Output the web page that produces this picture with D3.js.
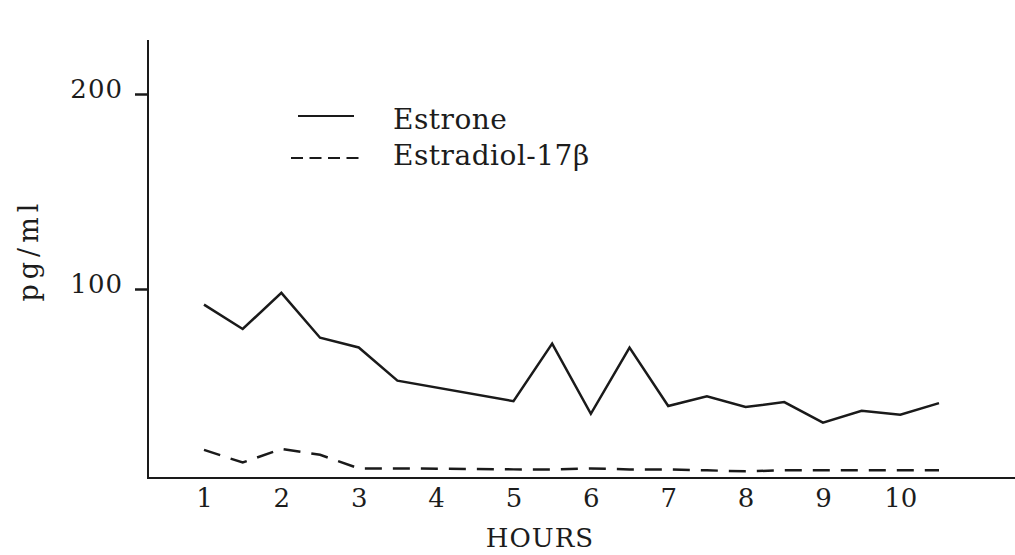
<!DOCTYPE html>
<html>
<head>
<meta charset="utf-8">
<script src="https://cdn.jsdelivr.net/npm/d3@7"></script>
<style>
  html, body { margin: 0; padding: 0; background: #fff; }
  svg { display: block; }
  text { font-family: "DejaVu Serif", "Liberation Serif", serif; fill: #1c1c1c; }
</style>
</head>
<body>
<svg id="chart" width="1015" height="555"></svg>
<script>
// Sampling times (hours) and plasma concentrations (pg/ml)
const hours = [1, 1.5, 2, 2.5, 3, 3.5, 5, 5.5, 6, 6.5, 7, 7.5, 8, 8.5, 9, 9.5, 10, 10.5];
const estrone = [92, 79.5, 98, 75, 70, 53, 42.5, 72, 36, 70, 40, 45, 39.5, 42, 31.5, 37.5, 35.5, 41.5];
const estradiol = [17.5, 11, 18, 15, 8, 8, 7.5, 7.5, 8, 7.5, 7.5, 7, 6.5, 7, 7, 7, 7, 7];
const hourTicks = [1, 2, 3, 4, 5, 6, 7, 8, 9, 10];
const concTicks = [100, 200];
const seriesNames = ["Estrone", "Estradiol-17\u03B2"];

const svg = d3.select("#chart");
const ink = "#1a1a1a";

const x = d3.scaleLinear().domain([1, 10.5]).range([204, 939]);
const y = d3.scaleLinear().domain([0, 200]).range([484, 94]);

const axisLeftX = 148, axisBottomY = 478, axisTopY = 40;

// Axis lines
svg.append("line")
  .attr("x1", axisLeftX).attr("x2", axisLeftX)
  .attr("y1", axisTopY).attr("y2", axisBottomY + 1)
  .attr("stroke", ink).attr("stroke-width", 2);
svg.append("line")
  .attr("x1", axisLeftX - 1).attr("x2", 1015)
  .attr("y1", axisBottomY).attr("y2", axisBottomY)
  .attr("stroke", ink).attr("stroke-width", 2.2);

// Y axis ticks and labels
const yAxis = svg.append("g")
  .attr("transform", `translate(${axisLeftX},0)`)
  .call(d3.axisLeft(y).tickValues(concTicks).tickSize(13).tickPadding(12).tickFormat(d3.format("d")));
yAxis.select(".domain").remove();
yAxis.selectAll(".tick line").attr("stroke", ink).attr("stroke-width", 2.5);
yAxis.selectAll(".tick text")
  .attr("font-size", 26).attr("font-family", "DejaVu Serif").attr("fill", ink)
  .attr("dy", "0.12em").attr("letter-spacing", 1);

// X axis labels (no tick marks)
const xAxis = svg.append("g")
  .attr("transform", `translate(0,${axisBottomY})`)
  .call(d3.axisBottom(x).tickValues(hourTicks).tickSize(0).tickFormat(d3.format("d")));
xAxis.select(".domain").remove();
xAxis.selectAll(".tick text")
  .attr("font-size", 26).attr("font-family", "DejaVu Serif").attr("fill", ink)
  .attr("y", 29).attr("dy", 0);

// Axis titles
svg.append("text")
  .attr("x", 540).attr("y", 547)
  .attr("text-anchor", "middle")
  .attr("font-size", 26)
  .attr("letter-spacing", 1)
  .text("HOURS");
svg.append("text")
  .attr("transform", "translate(38,250) rotate(-90)")
  .attr("text-anchor", "middle")
  .attr("font-size", 27)
  .attr("letter-spacing", 5)
  .text("pg/ml");

// Series
const line = d3.line().x((d, i) => x(hours[i])).y(d => y(d));

svg.append("path")
  .datum(estrone)
  .attr("d", line)
  .attr("fill", "none").attr("stroke", ink)
  .attr("stroke-width", 2.5).attr("stroke-linejoin", "miter");

svg.append("path")
  .datum(estradiol)
  .attr("d", line)
  .attr("fill", "none").attr("stroke", ink)
  .attr("stroke-width", 2.5).attr("stroke-dasharray", "17,11");

// Legend
const legend = svg.append("g");
legend.append("line")
  .attr("x1", 298).attr("x2", 354).attr("y1", 116).attr("y2", 116)
  .attr("stroke", ink).attr("stroke-width", 2);
legend.append("line")
  .attr("x1", 291).attr("x2", 359).attr("y1", 158).attr("y2", 158)
  .attr("stroke", ink).attr("stroke-width", 2).attr("stroke-dasharray", "12,6.5");
legend.selectAll("text.lab")
  .data(seriesNames)
  .join("text")
  .attr("class", "lab")
  .attr("x", 393)
  .attr("y", (d, i) => 129 + i * 36)
  .attr("font-size", 28)
  .attr("letter-spacing", 0.5)
  .text(d => d);
</script>
</body>
</html>
